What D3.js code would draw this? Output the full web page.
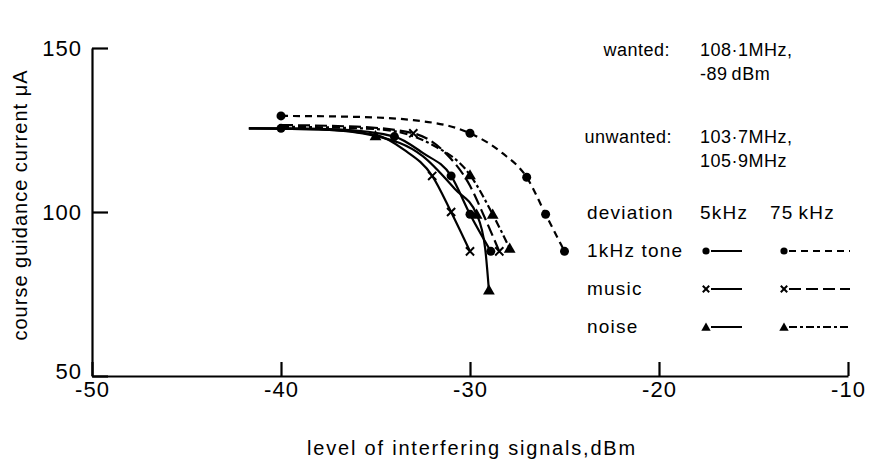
<!DOCTYPE html>
<html>
<head>
<meta charset="utf-8">
<script src="https://cdn.jsdelivr.net/npm/d3@7"></script>
<style>
  body { margin: 0; background: #fff; }
  svg { font-family: "Liberation Sans", Arial, sans-serif; }
</style>
</head>
<body>
<svg id="chart" width="880" height="459"></svg>
<script>
const svg = d3.select("#chart");

// axis ticks
const xTicks = [-50, -40, -30, -20, -10];
const yTicks = [50, 100, 150];

// curves: [level dBm, current uA]
const tone5Line = [[-41.7, 125.5], [-40, 125.5], [-37, 125.2], [-34, 123], [-32.5, 118], [-31, 111], [-30, 99.3], [-28.9, 88]];
const tone5Marks = [[-40, 125.5], [-34, 123], [-31, 111], [-30, 99.3], [-28.9, 88]];
const tone75Line = [[-40, 129.3], [-36, 129], [-33, 128], [-30, 124], [-28.3, 118], [-27, 110.6], [-26, 99.3], [-25, 88]];
const tone75Marks = [[-40, 129.3], [-30, 124], [-27, 110.6], [-26, 99.3], [-25, 88]];
const music5Line = [[-41.7, 125.5], [-38, 125.2], [-35, 123.5], [-33.5, 119], [-32, 111], [-31, 100], [-30, 88]];
const music5Marks = [[-32, 111], [-31, 100], [-30, 88]];
const music75Line = [[-40, 126.5], [-36, 126], [-33, 124], [-31.3, 118], [-30, 108], [-29.2, 98], [-28.45, 88]];
const music75Marks = [[-33, 124], [-28.45, 88]];
const noise5Line = [[-41.7, 125.5], [-38, 125.2], [-35, 123.2], [-32.5, 117], [-30.8, 107], [-29.65, 99.3], [-29.2, 89], [-29, 76.2]];
const noise5Marks = [[-35, 123.2], [-29.65, 99.3], [-29, 76.2]];
const noise75Line = [[-40, 126], [-35, 125.3], [-32, 120.5], [-30, 111.3], [-28.8, 99.3], [-27.9, 88.9]];
const noise75Marks = [[-30, 111.3], [-28.8, 99.3], [-27.9, 88.9]];

const series = [
  { kind: "tone", dev: 5, line: tone5Line, marks: tone5Marks, sym: "circle", dash: null },
  { kind: "tone", dev: 75, line: tone75Line, marks: tone75Marks, sym: "circle", dash: "7,5" },
  { kind: "music", dev: 5, line: music5Line, marks: music5Marks, sym: "cross", dash: null },
  { kind: "music", dev: 75, line: music75Line, marks: music75Marks, sym: "cross", dash: "12,5" },
  { kind: "noise", dev: 5, line: noise5Line, marks: noise5Marks, sym: "triangle", dash: null },
  { kind: "noise", dev: 75, line: noise75Line, marks: noise75Marks, sym: "triangle", dash: "8,3,3,3" },
];

const x = d3.scaleLinear().domain([-50, -10]).range([92, 848]);
const y = d3.scaleLinear().domain([50, 150]).range([376, 48]);

// axes, ticks point inwards
const xAxis = svg.append("g")
  .attr("transform", `translate(0,${y(50)})`)
  .call(d3.axisBottom(x).tickValues(xTicks).tickSize(-14).tickSizeOuter(0).tickPadding(5).tickFormat(d => String(d)));
const yAxis = svg.append("g")
  .attr("transform", `translate(${x(-50)},0)`)
  .call(d3.axisLeft(y).tickValues(yTicks).tickSize(-16).tickSizeOuter(0).tickPadding(10).tickFormat(d => String(d)));

[xAxis, yAxis].forEach(a => {
  a.select(".domain").attr("stroke", "#000").attr("stroke-width", 2.2);
  a.selectAll(".tick line").attr("stroke", "#000").attr("stroke-width", 2.2);
  a.selectAll(".tick text").attr("fill", "#000")
    .style("font-size", "22px").style("letter-spacing", "1px")
    .style("font-family", "Liberation Sans, Arial, sans-serif");
});
yAxis.selectAll(".tick").filter(d => d === 50).select("text").attr("dy", "0.1em");

svg.append("text")
  .attr("x", 472).attr("y", 455)
  .attr("text-anchor", "middle")
  .style("font-size", "20px").style("letter-spacing", "1.8px")
  .text("level of interfering signals,dBm");

svg.append("text")
  .attr("transform", "translate(27,205) rotate(-90)")
  .attr("text-anchor", "middle")
  .style("font-size", "20px").style("letter-spacing", "1px")
  .text("course guidance current \u03bcA");

const line = d3.line().x(d => x(d[0])).y(d => y(d[1])).curve(d3.curveMonotoneX);

function drawMark(g, sym, cx, cy, small) {
  const k = small ? 0.8 : 1;
  if (sym === "circle") {
    g.append("circle").attr("cx", cx).attr("cy", cy).attr("r", 4.5 * k).attr("fill", "#000");
  } else if (sym === "triangle") {
    g.append("path").attr("d", d3.symbol(d3.symbolTriangle, 60 * k * k)())
      .attr("transform", `translate(${cx},${cy + 1})`).attr("fill", "#000");
  } else {
    g.append("path").attr("d", d3.symbol(d3.symbolTimes, 45 * k * k)())
      .attr("transform", `translate(${cx},${cy})`)
      .attr("fill", "none").attr("stroke", "#000").attr("stroke-width", 2);
  }
}

const plot = svg.append("g");
series.forEach(s => {
  plot.append("path")
    .attr("d", line(s.line))
    .attr("fill", "none")
    .attr("stroke", "#000")
    .attr("stroke-width", 2.2)
    .attr("stroke-dasharray", s.dash);
  s.marks.forEach(m => drawMark(plot, s.sym, x(m[0]), y(m[1]), false));
});

// legend / notes
const notes = svg.append("g").style("font-size", "18px").style("letter-spacing", "0.5px");
notes.append("text").attr("x", 670).attr("y", 56).attr("text-anchor", "end").text("wanted:");
notes.append("text").attr("x", 700).attr("y", 56).text("108\u00b71MHz,");
notes.append("text").attr("x", 700).attr("y", 80).text("-89\u2009dBm");
notes.append("text").attr("x", 672).attr("y", 143).attr("text-anchor", "end").text("unwanted:");
notes.append("text").attr("x", 700).attr("y", 143).text("103\u00b77MHz,");
notes.append("text").attr("x", 700).attr("y", 167).text("105\u00b79MHz");

const rowsText = notes.append("g").style("font-size", "19px").style("letter-spacing", "1.2px");
rowsText.append("text").attr("x", 587).attr("y", 219).text("deviation");
rowsText.append("text").attr("x", 700).attr("y", 219).text("5kHz");
rowsText.append("text").attr("x", 770).attr("y", 219).text("75\u2009kHz");

const rows = [
  { kind: "tone", label: "1kHz tone", y: 251 },
  { kind: "music", label: "music", y: 289 },
  { kind: "noise", label: "noise", y: 327 },
];
const legendCols = { 5: [706, 742], 75: [784, 850] };

rows.forEach(r => {
  rowsText.append("text").attr("x", 587).attr("y", r.y + 6).text(r.label);
  series.filter(s => s.kind === r.kind).forEach(s => {
    const [x0, x1] = legendCols[s.dev];
    notes.append("line")
      .attr("x1", x0 + 5).attr("x2", x1).attr("y1", r.y).attr("y2", r.y)
      .attr("stroke", "#000").attr("stroke-width", 2)
      .attr("stroke-dasharray", s.dash);
    drawMark(notes, s.sym, x0, r.y, true);
  });
});
</script>
</body>
</html>
